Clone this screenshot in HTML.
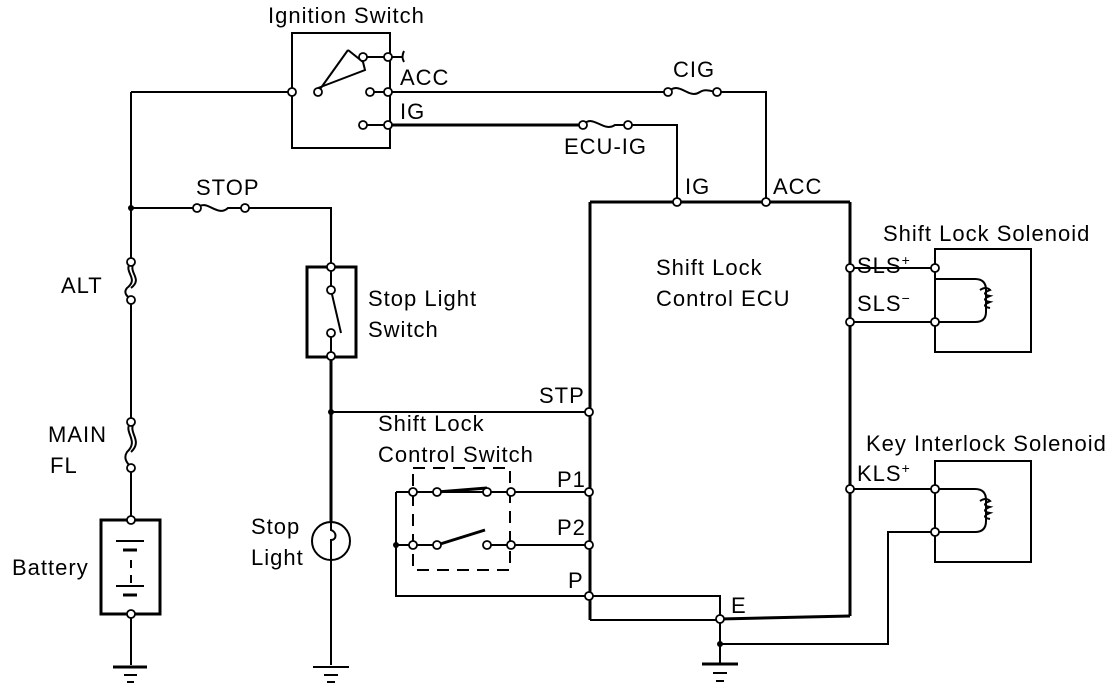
<!DOCTYPE html>
<html><head><style>
body{margin:0;background:#fff}
text{font-family:"Liberation Sans",Arial,sans-serif;font-size:22px;letter-spacing:1px;fill:#000}
</style></head><body>
<svg width="1120" height="690" viewBox="0 0 1120 690" xmlns="http://www.w3.org/2000/svg">
<g stroke="#000" fill="none" stroke-width="2">
<line x1="131" y1="92" x2="131" y2="262"/>
<line x1="131" y1="300" x2="131" y2="422"/>
<line x1="131" y1="468" x2="131" y2="520"/>
<line x1="131" y1="614" x2="131" y2="665"/>
<line x1="131" y1="92" x2="292" y2="92"/>
<path d="M131 262 C122 272,140 278,127 288 C122 294,130 298,131 300"/>
<path d="M135 262 C126 272,144 278,131 288"/>
<path d="M131 422 C122 432,140 440,127 452 C122 460,130 465,131 468"/>
<path d="M135 422 C126 432,144 440,131 452"/>
<rect x="101" y="520" width="59" height="94" stroke-width="3"/>
<line x1="116" y1="541" x2="144" y2="541"/><line x1="123" y1="550" x2="137" y2="550" stroke-width="3"/>
<line x1="131" y1="560" x2="131" y2="568"/><line x1="131" y1="575" x2="131" y2="583"/>
<line x1="116" y1="586" x2="144" y2="586"/><line x1="123" y1="595" x2="137" y2="595" stroke-width="3"/>
<line x1="113" y1="667" x2="147" y2="667" stroke-width="3"/><line x1="124" y1="675" x2="137" y2="675"/><line x1="127" y1="682" x2="134" y2="682"/>
<rect x="292" y="33" width="98" height="115"/>
<line x1="318" y1="92" x2="348" y2="50"/><path d="M348 50 L363 62 L365 70 L318 88"/>
<line x1="363" y1="57" x2="388" y2="57"/><path d="M388 57 L403 57 M404 51 Q401 57 404 62"/>
<line x1="370" y1="92" x2="388" y2="92"/><line x1="363" y1="125" x2="388" y2="125"/>
<line x1="388" y1="92" x2="668" y2="92"/>
<path d="M668 92 C680 80,688 100,700 92 C706 88,712 92,717 92"/>
<polyline points="717,92 766,92 766,202"/>
<line x1="388" y1="125" x2="583" y2="125" stroke-width="3"/>
<path d="M583 125 C593 113,603 133,615 125 L628 125"/>
<polyline points="628,125 677,125 677,202"/>
<line x1="590" y1="202" x2="850" y2="202" stroke-width="3"/>
<line x1="590" y1="202" x2="590" y2="620" stroke-width="3"/>
<line x1="850" y1="202" x2="850" y2="616" stroke-width="3"/>
<line x1="590" y1="620" x2="720" y2="620" stroke-width="2"/>
<line x1="720" y1="619" x2="850" y2="616" stroke-width="3"/>
<polyline points="590,596 720,596 720,618"/>
<line x1="720" y1="620" x2="720" y2="665"/>
<polyline points="720,644 888,644 888,532 935,532"/>
<line x1="702" y1="664" x2="738" y2="664" stroke-width="3"/><line x1="713" y1="673" x2="727" y2="673"/><line x1="716" y1="681" x2="724" y2="681"/>
<line x1="131" y1="208" x2="197" y2="208"/>
<path d="M197 208 C207 198,217 218,228 208 L245 208"/>
<polyline points="245,208 331,208 331,267"/>
<rect x="307" y="267" width="49" height="90" stroke-width="3"/>
<line x1="331" y1="290" x2="341" y2="333"/><line x1="331" y1="333" x2="331" y2="357"/><line x1="331" y1="267" x2="331" y2="290"/>
<line x1="331" y1="357" x2="331" y2="522" stroke-width="3"/>
<line x1="331" y1="412" x2="589" y2="412"/>
<circle cx="331" cy="541" r="19"/><path d="M331 522 L331 530 C337 532,337 540,331 540 L331 560"/>
<line x1="331" y1="560" x2="331" y2="665"/>
<line x1="313" y1="667" x2="349" y2="667" stroke-width="2"/><line x1="324" y1="675" x2="338" y2="675"/><line x1="327" y1="682" x2="335" y2="682"/>
<rect x="413" y="468" width="97" height="102" stroke-dasharray="12 8"/>
<line x1="396" y1="492" x2="589" y2="492"/>
<line x1="437" y1="492" x2="487" y2="488" stroke-width="3"/>
<line x1="396" y1="545" x2="437" y2="545"/><line x1="437" y1="545" x2="485" y2="530" stroke-width="3"/>
<line x1="487" y1="545" x2="589" y2="545"/>
<polyline points="396,492 396,596 590,596"/>
<line x1="850" y1="268" x2="935" y2="268"/><line x1="850" y1="322" x2="935" y2="322"/>
<rect x="935" y="249" width="96" height="103"/>
<path d="M935 279 L975 279 Q986 279,986 290 L986 312 Q986 322,975 322 L935 322" stroke-width="2"/>
<path d="M980 290 q6 -4 10 0 q-10 4 0 6 q-10 4 0 6 q-10 4 0 6" />
<line x1="850" y1="489" x2="935" y2="489"/>
<rect x="935" y="461" width="96" height="101"/>
<path d="M935 489 L975 489 Q986 489,986 500 L986 521 Q986 532,975 532 L935 532" stroke-width="2"/>
<path d="M980 501 q6 -4 10 0 q-10 4 0 6 q-10 4 0 6 q-10 4 0 6" />
</g>
<g fill="#fff" stroke="#000" stroke-width="1.8">
<circle cx="131" cy="262" r="4"/><circle cx="131" cy="300" r="4"/><circle cx="131" cy="422" r="4"/><circle cx="131" cy="468" r="4"/>
<circle cx="131" cy="520" r="4"/><circle cx="131" cy="614" r="4"/>
<circle cx="292" cy="92" r="4"/><circle cx="318" cy="92" r="4"/><circle cx="363" cy="57" r="4"/><circle cx="388" cy="57" r="4"/>
<circle cx="370" cy="92" r="4"/><circle cx="388" cy="92" r="4"/><circle cx="363" cy="125" r="4"/><circle cx="388" cy="125" r="4"/>
<circle cx="668" cy="92" r="4"/><circle cx="717" cy="92" r="4"/><circle cx="583" cy="125" r="4"/><circle cx="628" cy="125" r="4"/>
<circle cx="677" cy="202" r="4"/><circle cx="766" cy="202" r="4"/>
<circle cx="197" cy="208" r="4"/><circle cx="245" cy="208" r="4"/>
<circle cx="331" cy="267" r="4"/><circle cx="331" cy="290" r="4"/><circle cx="331" cy="333" r="4"/><circle cx="331" cy="356" r="4"/>
<circle cx="589" cy="412" r="4"/><circle cx="589" cy="492" r="4"/><circle cx="589" cy="545" r="4"/><circle cx="589" cy="596" r="4"/>
<circle cx="413" cy="492" r="4"/><circle cx="437" cy="492" r="4"/><circle cx="487" cy="492" r="4"/><circle cx="511" cy="492" r="4"/>
<circle cx="413" cy="545" r="4"/><circle cx="437" cy="545" r="4"/><circle cx="487" cy="545" r="4"/><circle cx="511" cy="545" r="4"/>
<circle cx="720" cy="619" r="4"/>
<circle cx="850" cy="268" r="4"/><circle cx="850" cy="322" r="4"/><circle cx="935" cy="268" r="4"/><circle cx="935" cy="322" r="4"/>
<circle cx="850" cy="489" r="4"/><circle cx="935" cy="489" r="4"/><circle cx="935" cy="532" r="4"/>
</g>
<g fill="#000">
<circle cx="131" cy="208" r="3"/><circle cx="331" cy="412" r="3"/><circle cx="396" cy="545" r="3"/><circle cx="720" cy="644" r="3"/>
</g>
<text x="268" y="23">Ignition Switch</text>
<text x="400" y="85">ACC</text>
<text x="400" y="119">IG</text>
<text x="673" y="77">CIG</text>
<text x="564" y="154">ECU-IG</text>
<text x="685" y="194">IG</text>
<text x="773" y="194">ACC</text>
<text x="196" y="195">STOP</text>
<text x="61" y="293">ALT</text>
<text x="48" y="442">MAIN</text>
<text x="50" y="473">FL</text>
<text x="12" y="575">Battery</text>
<text x="368" y="306">Stop Light</text>
<text x="368" y="337">Switch</text>
<text x="251" y="534">Stop</text>
<text x="251" y="565">Light</text>
<text x="378" y="431">Shift Lock</text>
<text x="378" y="462">Control Switch</text>
<text x="539" y="403">STP</text>
<text x="557" y="487">P1</text>
<text x="557" y="535">P2</text>
<text x="568" y="588">P</text>
<text x="731" y="613">E</text>
<text x="656" y="275">Shift Lock</text>
<text x="656" y="306">Control ECU</text>
<text x="883" y="241">Shift Lock Solenoid</text>
<text x="857" y="273">SLS<tspan font-size="14" dy="-8">+</tspan></text>
<text x="857" y="311">SLS<tspan font-size="14" dy="-8">−</tspan></text>
<text x="866" y="451">Key Interlock Solenoid</text>
<text x="857" y="481">KLS<tspan font-size="14" dy="-8">+</tspan></text>
</svg>
</body></html>
